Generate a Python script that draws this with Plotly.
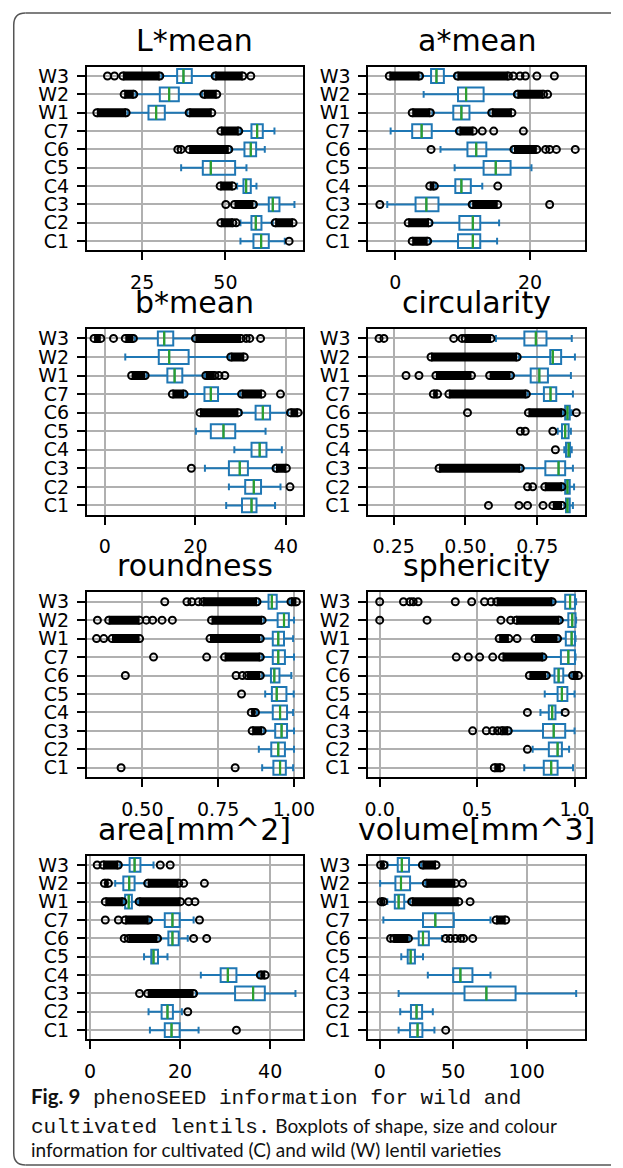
import plotly.graph_objects as go

CATS = ["C1", "C2", "C3", "C4", "C5", "C6", "C7", "W1", "W2", "W3"]
TITLES = ["L*mean", "a*mean", "b*mean", "circularity", "roundness", "sphericity", "area[mm^2]", "volume[mm^3]"]

# ---------------- L*mean ----------------
L_LO = [54.5, 54.5, 59.1, 53.5, 36.7, 51.7, 54.5, 20.6, 23.0, 30.8]
L_Q1 = [58.4, 57.8, 63.0, 55.4, 43.2, 55.7, 57.8, 26.9, 30.3, 35.5]
L_MED = [60.7, 59.1, 64.2, 56.2, 45.6, 57.6, 59.5, 29.2, 33.1, 37.4]
L_Q3 = [63.0, 60.8, 66.2, 57.6, 52.9, 59.2, 61.2, 31.8, 36.0, 39.9]
L_HI = [67.8, 64.2, 70.7, 59.3, 56.3, 61.8, 64.7, 38.6, 43.0, 46.4]
L_OUT = [("C1", 69.1), ("C2", 53.2), ("C3", 50.1), ("C6", 35.7), ("C6", 36.7),
         ("W3", 14.6), ("W3", 16.7), ("W3", 57.6)]
L_DENSE = [("C2", 48.6, 52.2), ("C2", 64.9, 70.3), ("C3", 52.7, 58.4), ("C4", 48.4, 52.2),
           ("C6", 39.1, 51.0), ("C7", 48.6, 54.0), ("W1", 11.4, 20.2), ("W1", 39.1, 45.9),
           ("W2", 19.6, 22.5), ("W2", 43.5, 47.4), ("W3", 19.2, 30.3), ("W3", 46.9, 55.2)]

# ---------------- a*mean ----------------
A_LO = [5.1, 5.4, -1.2, 6.0, 8.8, 6.7, -0.7, 5.5, 4.2, 3.9]
A_Q1 = [9.3, 9.5, 3.0, 8.9, 13.1, 10.7, 2.5, 8.6, 9.3, 5.3]
A_MED = [11.5, 11.5, 4.6, 9.8, 14.9, 12.0, 3.9, 9.8, 10.5, 6.1]
A_Q3 = [12.6, 12.6, 6.4, 11.2, 17.1, 13.5, 5.4, 11.0, 13.1, 7.2]
A_HI = [15.1, 15.4, 11.1, 12.9, 20.2, 17.3, 9.2, 14.0, 17.8, 8.9]
A_OUT = [("C3", -2.3), ("C3", 22.9), ("C4", 15.2), ("C6", 5.3), ("C6", 22.3), ("C6", 22.9),
         ("C6", 23.9), ("C6", 26.7), ("C7", 12.9), ("C7", 14.6), ("C7", 19.0), ("W2", 22.6),
         ("W3", 17.5), ("W3", 18.5), ("W3", 19.3), ("W3", 21.0), ("W3", 23.6)]
A_DENSE = [("C1", 2.5, 4.8), ("C2", 1.9, 5.0), ("C3", 11.4, 15.2), ("C4", 5.1, 5.8),
           ("C6", 17.6, 21.0), ("C7", 9.5, 11.6), ("W1", 2.5, 5.2), ("W1", 14.3, 17.3),
           ("W2", 18.1, 22.0), ("W3", -0.9, 3.6), ("W3", 9.2, 16.8)]

# ---------------- b*mean ----------------
B_LO = [26.8, 27.4, 22.1, 28.6, 20.1, 30.1, 17.8, 9.2, 4.5, 6.6]
B_Q1 = [30.3, 31.0, 27.4, 32.4, 23.4, 33.3, 22.0, 13.8, 11.9, 11.7]
B_MED = [32.4, 32.9, 29.8, 34.2, 26.2, 34.9, 23.4, 15.4, 14.2, 13.1]
B_Q3 = [33.5, 34.5, 31.6, 35.7, 28.8, 36.5, 25.0, 17.1, 18.5, 15.1]
B_HI = [37.6, 38.8, 37.3, 39.1, 35.5, 40.5, 29.9, 22.1, 27.5, 19.6]
B_OUT = [("C2", 40.9), ("C3", 19.1), ("C7", 38.8), ("W1", 25.2), ("W1", 26.5),
         ("W3", 1.9), ("W3", 31.2), ("W3", 32.0), ("W3", 34.4)]
B_DENSE = [("C3", 37.8, 40.1), ("C6", 21.0, 29.5), ("C6", 41.0, 42.7), ("C7", 14.9, 17.5),
           ("C7", 30.2, 34.7), ("W1", 5.9, 8.9), ("W1", 22.3, 24.3), ("W2", 27.8, 30.8),
           ("W3", -2.4, -0.9), ("W3", 4.5, 6.3), ("W3", 20.0, 30.1)]

# ---------------- circularity ----------------
C_LO = [0.844, 0.840, 0.697, 0.844, 0.821, 0.840, 0.716, 0.663, 0.686, 0.606]
C_Q1 = [0.850, 0.847, 0.778, 0.850, 0.836, 0.847, 0.773, 0.727, 0.795, 0.705]
C_MED = [0.855, 0.855, 0.824, 0.859, 0.847, 0.855, 0.796, 0.757, 0.804, 0.745]
C_Q3 = [0.863, 0.863, 0.847, 0.864, 0.859, 0.863, 0.816, 0.787, 0.833, 0.782]
C_HI = [0.874, 0.878, 0.874, 0.870, 0.867, 0.870, 0.874, 0.867, 0.881, 0.870]
C_OUT = [("C1", 0.580), ("C1", 0.686), ("C1", 0.716), ("C1", 0.770), ("C2", 0.716),
         ("C2", 0.734), ("C4", 0.813), ("C5", 0.691), ("C5", 0.708), ("C5", 0.804),
         ("C6", 0.507), ("C6", 0.886), ("W1", 0.293), ("W1", 0.338), ("W3", 0.199),
         ("W3", 0.216), ("W3", 0.459), ("W3", 0.488)]
C_DENSE = [("C1", 0.804, 0.836), ("C2", 0.776, 0.836), ("C3", 0.408, 0.691), ("C6", 0.719, 0.836),
           ("C7", 0.388, 0.403), ("C7", 0.442, 0.712), ("W1", 0.397, 0.521), ("W1", 0.584, 0.657),
           ("W2", 0.380, 0.680), ("W3", 0.499, 0.589)]

# ---------------- roundness ----------------
R_LO = [0.895, 0.884, 0.900, 0.878, 0.905, 0.895, 0.895, 0.895, 0.900, 0.884]
R_Q1 = [0.932, 0.925, 0.938, 0.930, 0.927, 0.924, 0.930, 0.930, 0.946, 0.916]
R_MED = [0.954, 0.948, 0.959, 0.954, 0.943, 0.935, 0.948, 0.948, 0.967, 0.927]
R_Q3 = [0.973, 0.970, 0.977, 0.977, 0.975, 0.952, 0.970, 0.967, 0.983, 0.943]
R_HI = [0.997, 1.000, 1.000, 0.997, 0.999, 0.991, 1.000, 0.997, 1.000, 0.986]
R_OUT = [("C1", 0.430), ("C1", 0.806), ("C5", 0.827), ("C6", 0.444), ("C6", 0.809),
         ("C6", 0.830), ("C7", 0.537), ("C7", 0.712), ("W1", 0.349), ("W1", 0.373),
         ("W2", 0.352), ("W2", 0.513), ("W2", 0.534), ("W2", 0.565), ("W2", 0.599),
         ("W3", 0.574), ("W3", 0.647), ("W3", 0.663), ("W3", 0.685)]
R_DENSE = [("C3", 0.862, 0.895), ("C4", 0.859, 0.873), ("C6", 0.845, 0.889), ("C7", 0.771, 0.889),
           ("W1", 0.400, 0.491), ("W1", 0.723, 0.889), ("W2", 0.389, 0.491), ("W2", 0.728, 0.895),
           ("W3", 0.700, 0.878), ("W3", 0.990, 1.008)]

# ---------------- sphericity ----------------
S_LO = [0.742, 0.785, 0.672, 0.825, 0.847, 0.863, 0.842, 0.922, 0.930, 0.888]
S_Q1 = [0.842, 0.868, 0.838, 0.868, 0.913, 0.897, 0.930, 0.955, 0.968, 0.952]
S_MED = [0.880, 0.913, 0.893, 0.885, 0.935, 0.918, 0.968, 0.985, 0.988, 0.977]
S_Q3 = [0.913, 0.935, 0.952, 0.902, 0.963, 0.942, 1.002, 1.002, 1.005, 1.002]
S_HI = [0.992, 0.972, 1.000, 0.935, 1.000, 0.985, 1.005, 1.005, 1.008, 1.008]
S_OUT = [("C2", 0.758), ("C3", 0.477), ("C3", 0.547), ("C3", 0.580), ("C3", 0.605),
         ("C4", 0.758), ("C4", 0.952), ("C7", 0.393), ("C7", 0.455), ("C7", 0.513),
         ("C7", 0.580), ("W1", 0.705), ("W2", 0.0), ("W2", 0.243), ("W2", 0.622),
         ("W2", 0.672), ("W3", 0.0), ("W3", 0.122), ("W3", 0.155), ("W3", 0.172),
         ("W3", 0.197), ("W3", 0.388), ("W3", 0.472), ("W3", 0.538), ("W3", 0.572)]
S_DENSE = [("C1", 0.588, 0.622), ("C3", 0.625, 0.660), ("C6", 0.768, 0.855), ("C6", 0.990, 1.020),
           ("C7", 0.630, 0.838), ("W1", 0.613, 0.663), ("W1", 0.797, 0.913), ("W2", 0.700, 0.922),
           ("W3", 0.600, 0.885)]

# ---------------- area[mm^2] ----------------
AR_LO = [13.3, 13.0, 23.5, 24.6, 12.0, 15.4, 13.2, 7.5, 5.6, 6.7]
AR_Q1 = [16.6, 15.9, 32.2, 29.0, 13.6, 17.4, 16.6, 7.8, 7.4, 8.8]
AR_MED = [18.1, 17.2, 36.2, 30.6, 14.1, 18.3, 18.3, 8.6, 8.7, 9.9]
AR_Q3 = [19.9, 18.4, 38.8, 32.5, 15.1, 19.7, 19.9, 9.3, 9.9, 11.2]
AR_HI = [24.1, 20.4, 45.6, 37.5, 17.2, 21.7, 23.0, 10.7, 12.3, 14.1]
AR_OUT = [("C1", 32.5), ("C2", 21.7), ("C3", 11.0), ("C6", 7.6), ("C6", 23.0), ("C6", 25.9),
          ("C7", 3.4), ("C7", 6.3), ("C7", 24.3), ("W1", 21.9), ("W1", 23.3), ("W2", 20.8),
          ("W2", 25.4), ("W3", 1.6), ("W3", 15.6), ("W3", 17.8)]
AR_DENSE = [("C3", 12.8, 23.0), ("C4", 37.8, 38.9), ("C6", 8.5, 15.0), ("C7", 7.8, 13.0),
            ("W1", 3.4, 7.3), ("W1", 10.9, 20.1), ("W2", 3.2, 4.1), ("W2", 12.8, 19.7),
            ("W3", 2.9, 6.3)]

# ---------------- volume[mm^3] ----------------
V_LO = [12.8, 13.9, 12.8, 32.7, 14.6, 20.1, 2.4, 5.1, 0.2, 5.1]
V_Q1 = [20.6, 21.2, 57.7, 50.0, 19.0, 26.5, 29.4, 10.2, 10.6, 12.2]
V_MED = [25.7, 25.0, 72.6, 54.9, 21.0, 29.4, 37.8, 12.8, 14.4, 15.0]
V_Q3 = [29.0, 28.8, 92.5, 63.1, 23.9, 33.4, 50.4, 16.6, 20.6, 19.9]
V_HI = [37.2, 36.1, 133.8, 75.4, 29.4, 42.3, 75.4, 20.6, 31.2, 28.3]
V_OUT = [("C1", 44.9), ("C6", 7.3), ("C6", 44.9), ("C6", 48.0), ("C6", 51.5), ("C6", 55.0),
         ("C6", 57.1), ("C6", 63.3), ("W1", 61.5), ("W2", 56.4)]
V_DENSE = [("C6", 9.5, 19.5), ("C7", 79.2, 85.8), ("W1", 0.8, 2.5), ("W1", 21.7, 53.8),
           ("W2", 31.6, 51.5), ("W3", 0.5, 2.9), ("W3", 29.0, 38.3)]

# axis ranges and ticks
X_RANGES = [[8.4, 73.3], [-4.0, 28.1], [-4.0, 43.8], [0.162, 0.915],
            [0.317, 1.030], [-0.058, 1.052], [-0.7, 47.3], [-7.8, 139.6]]
TICKVALS = [[25, 50], [0, 20], [0, 20, 40], [0.25, 0.5, 0.75],
            [0.5, 0.75, 1.0], [0.0, 0.5, 1.0], [0, 20, 40], [0, 50, 100]]
TICKTEXT = [["25", "50"], ["0", "20"], ["0", "20", "40"], ["0.25", "0.50", "0.75"],
            ["0.50", "0.75", "1.00"], ["0.0", "0.5", "1.0"], ["0", "20", "40"], ["0", "50", "100"]]

STATS = [
    (L_LO, L_Q1, L_MED, L_Q3, L_HI, L_OUT, L_DENSE),
    (A_LO, A_Q1, A_MED, A_Q3, A_HI, A_OUT, A_DENSE),
    (B_LO, B_Q1, B_MED, B_Q3, B_HI, B_OUT, B_DENSE),
    (C_LO, C_Q1, C_MED, C_Q3, C_HI, C_OUT, C_DENSE),
    (R_LO, R_Q1, R_MED, R_Q3, R_HI, R_OUT, R_DENSE),
    (S_LO, S_Q1, S_MED, S_Q3, S_HI, S_OUT, S_DENSE),
    (AR_LO, AR_Q1, AR_MED, AR_Q3, AR_HI, AR_OUT, AR_DENSE),
    (V_LO, V_Q1, V_MED, V_Q3, V_HI, V_OUT, V_DENSE),
]

# ---------------- layout geometry (pixels) ----------------
W, H = 623, 1168
COL_X = [(85, 307), (374, 596)]
ROW_Y = [(65, 249), (328, 514), (592, 777), (856, 1040)]

BLUE = "#1f77b4"
GREEN = "#2ca02c"
FONT = "DejaVu Sans"
OUT_MARKER = dict(symbol="circle-open", size=7, color="black", line=dict(width=2))

fig = go.Figure()
annotations = []

for i, (lo, q1, med, q3, hi, outs, dense) in enumerate(STATS):
    r, c = divmod(i, 2)
    n = i + 1
    xa = "x" if n == 1 else f"x{n}"
    ya = "y" if n == 1 else f"y{n}"

    # dense outlier clusters (drawn as overlapping circles)
    dx, dy = [], []
    for cat, a, b in dense:
        dx += [a, b, None]
        dy += [cat, cat, None]
    fig.add_trace(go.Scatter(
        x=dx, y=dy, mode="lines+markers", xaxis=xa, yaxis=ya, showlegend=False,
        line=dict(color="black", width=9), marker=OUT_MARKER, hoverinfo="skip"))
    # individual outliers
    fig.add_trace(go.Scatter(
        x=[v for _, v in outs], y=[k for k, _ in outs], mode="markers",
        xaxis=xa, yaxis=ya, showlegend=False, marker=OUT_MARKER, hoverinfo="skip"))
    # boxes
    fig.add_trace(go.Box(
        y=CATS, q1=q1, median=med, q3=q3, lowerfence=lo, upperfence=hi,
        orientation="h", xaxis=xa, yaxis=ya, showlegend=False,
        line=dict(color=BLUE, width=2), fillcolor="rgba(0,0,0,0)",
        width=0.75, whiskerwidth=0.5, boxpoints=False, hoverinfo="skip"))
    # medians (green)
    fig.add_trace(go.Scatter(
        x=med, y=CATS, mode="markers", xaxis=xa, yaxis=ya, showlegend=False,
        marker=dict(symbol="line-ns", size=10, color=GREEN, line=dict(width=2.2, color=GREEN)),
        hoverinfo="skip"))

    x0, x1 = COL_X[c]
    y0, y1 = ROW_Y[r]
    xdom = [x0 / W, x1 / W]
    ydom = [1 - y1 / H, 1 - y0 / H]
    axis_common = dict(showline=True, mirror=True, linecolor="black", linewidth=2,
                       ticks="outside", ticklen=8, tickwidth=2, tickcolor="black",
                       showgrid=True, gridcolor="#b0b0b0", gridwidth=1.5, zeroline=False,
                       tickfont=dict(family=FONT, size=19, color="black"))
    fig.layout[f"xaxis{'' if n == 1 else n}"] = dict(
        domain=xdom, anchor=ya, range=X_RANGES[i], tickmode="array", tickvals=TICKVALS[i],
        ticktext=TICKTEXT[i], ticklabelstandoff=6, **axis_common)
    fig.layout[f"yaxis{'' if n == 1 else n}"] = dict(
        domain=ydom, anchor=xa, type="category", categoryorder="array",
        categoryarray=CATS, tickmode="array", tickvals=CATS, ticktext=CATS,
        range=[-0.5, 9.5], ticklabelstandoff=4, **axis_common)

    annotations.append(dict(
        text=TITLES[i], x=(xdom[0] + xdom[1]) / 2, y=ydom[1], xref="paper", yref="paper",
        xanchor="center", yanchor="bottom", yshift=7, showarrow=False,
        font=dict(family=FONT, size=30, color="black")))

# caption
CAP_X = 26 / W
MONO = "font-family:'Liberation Mono';font-size:21px"
BOLD = "font-size:20.5px"
cap_lines = [
    (1107, f"<b><span style=\"{BOLD}\">Fig. 9</span></b><span style=\"{MONO}\"> phenoSEED information for wild and</span>"),
    (1136, f"<span style=\"{MONO}\">cultivated lentils.</span> Boxplots of shape, size and colour"),
    (1158, "information for cultivated (C) and wild (W) lentil varieties"),
]
for base, txt in cap_lines:
    annotations.append(dict(
        text=txt, x=CAP_X, y=1 - base / H, xref="paper", yref="paper",
        xanchor="left", yanchor="bottom", yshift=-6, showarrow=False, align="left",
        font=dict(family="Lato", size=19, color="#111111")))

# frame around the figure: top edge, left edge, bottom edge with rounded left corners
bx0, bt, bb = 10 / W, 1 - 11 / H, 1 - 1166 / H
rx, ry = 12 / W, 12 / H
FRAME_LINE = dict(color="#555555", width=1.5)
shapes = [
    dict(type="line", xref="paper", yref="paper", x0=bx0 + rx, x1=1.0, y0=bt, y1=bt, line=FRAME_LINE),
    dict(type="line", xref="paper", yref="paper", x0=bx0, x1=bx0, y0=bt - ry, y1=bb + ry, line=FRAME_LINE),
    dict(type="line", xref="paper", yref="paper", x0=bx0 + rx, x1=1.0, y0=bb, y1=bb, line=FRAME_LINE),
    dict(type="path", xref="paper", yref="paper", line=FRAME_LINE,
         path=f"M {bx0 + rx},{bt} Q {bx0},{bt} {bx0},{bt - ry}"),
    dict(type="path", xref="paper", yref="paper", line=FRAME_LINE,
         path=f"M {bx0},{bb + ry} Q {bx0},{bb} {bx0 + rx},{bb}"),
]

fig.update_layout(
    width=W, height=H, margin=dict(l=0, r=0, t=0, b=0), autosize=False,
    paper_bgcolor="white", plot_bgcolor="white",
    annotations=annotations, shapes=shapes,
    font=dict(family=FONT, color="black"),
)

fig.write_html("out.html", config={"displayModeBar": False},
               post_script="document.body.style.margin='0';document.body.style.padding='0';")
